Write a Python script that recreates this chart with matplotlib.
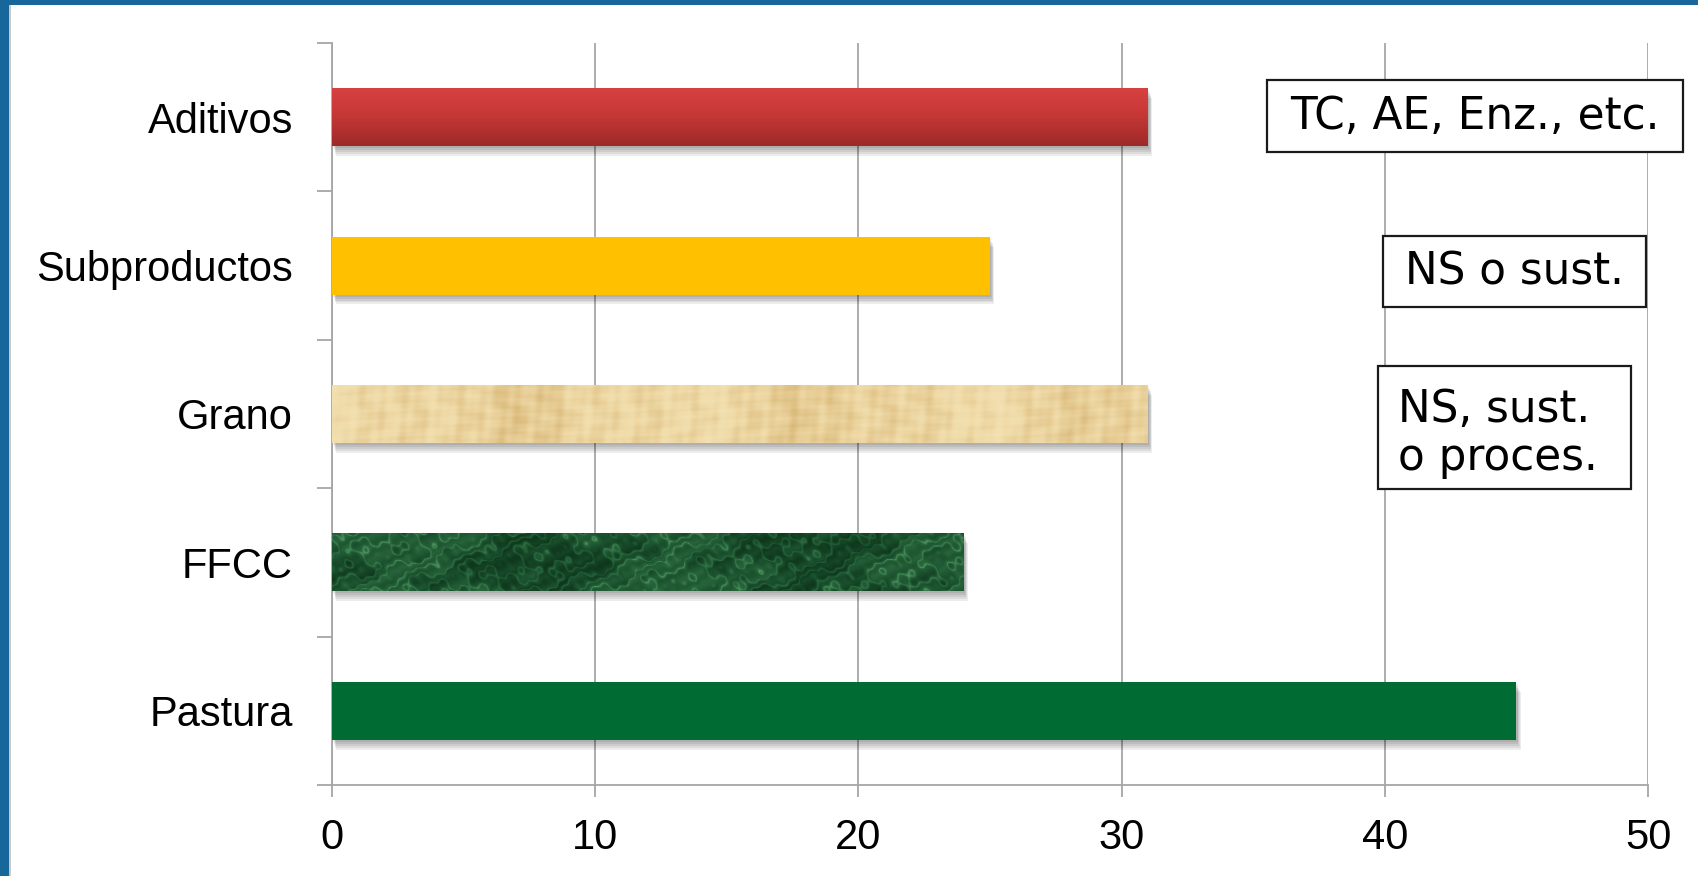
import matplotlib
matplotlib.use("Agg")
import matplotlib.pyplot as plt
import matplotlib.patheffects as pe
import numpy as np
from matplotlib.colors import LinearSegmentedColormap
from matplotlib.patches import Rectangle

# ── Data ──────────────────────────────────────────────────────────────────────

CATEGORIES = ["Aditivos", "Subproductos", "Grano", "FFCC", "Pastura"]
VALUES = [31, 25, 31, 24, 45]
X_TICKS = [0, 10, 20, 30, 40, 50]
NOTES = ["TC, AE, Enz., etc.", "NS o sust.", "NS, sust.\no proces."]

# ── Styling ───────────────────────────────────────────────────────────────────

W, H, DPI = 1699, 876, 100
GRID = "#a6a6a6"
FRAME = "#17679b"


def px(x, y):
    """Pixel position (from top-left) -> figure fraction."""
    return x / W, 1 - y / H


def texture_grain(h=60, w=820):
    """Papyrus-like tan fibres (deterministic, no noise)."""
    x = np.linspace(0, 1, w)[None, :]
    y = np.linspace(0, 1, h)[:, None]
    v = (0.30 * np.sin(2 * np.pi * (17.3 * x + 0.2 * np.sin(2 * np.pi * 1.3 * y)))
         + 0.20 * np.sin(2 * np.pi * (41.7 * x) + 1.1)
         + 0.14 * np.sin(2 * np.pi * (73.1 * x + 0.5 * y) + 0.4)
         + 0.16 * np.sin(2 * np.pi * (4.5 * y + 0.6 * np.sin(2 * np.pi * 2.2 * x)))
         + 0.08 * np.sin(2 * np.pi * (11 * y + 7 * x))
         + 0.35 * np.sin(2 * np.pi * (2.7 * x) + 0.8)
         + 0.20 * np.sin(2 * np.pi * (6.1 * x) + 2.0))
    v = (v - v.min()) / (v.max() - v.min())
    cmap = LinearSegmentedColormap.from_list(
        "grain", ["#d8b878", "#e6cb93", "#f0dcaa", "#f3e2b4"])
    return cmap(v)


def texture_marble(h=60, w=820):
    """Dark green marble with cloudy lighter veins (deterministic)."""
    x = np.linspace(0, 1, w)[None, :]
    y = np.linspace(0, 1, h)[:, None]
    turb = (np.sin(2 * np.pi * (3.1 * x + 0.9 * y))
            + 0.7 * np.sin(2 * np.pi * (7.9 * x - 1.3 * y) + 1.3)
            + 0.5 * np.sin(2 * np.pi * (19.3 * x + 2.1 * y) + 0.7)
            + 0.3 * np.sin(2 * np.pi * (43.7 * x - 3.3 * y) + 2.2))
    vein = np.abs(np.sin(2 * np.pi * (9.3 * x + 1.2 * y) + 1.8 * turb))
    v = 0.45 * (1 - vein) ** 3
    v += 0.35 * (np.sin(2 * np.pi * (2.3 * x) + 0.9 * turb) + 1) / 2
    v += 0.12 * (np.sin(2 * np.pi * (29.1 * x + 5 * y) + 2 * turb) + 1) / 2
    v = np.clip(v / v.max(), 0, 1)
    cmap = LinearSegmentedColormap.from_list(
        "marble", ["#0f371c", "#1c5430", "#2f6e42", "#56a068"])
    return cmap(v)


def gradient_red(h=60):
    y = np.linspace(0, 1, h)[:, None]
    cmap = LinearSegmentedColormap.from_list("red", ["#d64240", "#c43735", "#9d2a28"])
    return cmap(np.repeat(y, 4, axis=1))


FILLS = {
    "Aditivos": gradient_red(),
    "Subproductos": "#ffc000",
    "Grano": texture_grain(),
    "FFCC": texture_marble(),
    "Pastura": "#006b33",
}

# ── Figure ────────────────────────────────────────────────────────────────────

plt.rcParams["font.family"] = ["Liberation Sans", "DejaVu Sans"]

fig = plt.figure(figsize=(W / DPI, H / DPI), dpi=DPI)
fig.patch.set_facecolor("white")

l, b = px(332, 785)
r, t = px(1648, 43)
ax = fig.add_axes([l, b, r - l, t - b])

pos = np.arange(len(CATEGORIES))
# soft shadow below each bar, faked with a few stacked offsets
shadow = [pe.SimplePatchShadow(offset=(1.0 + 0.5 * k, -1.5 - 1.4 * k),
                               shadow_rgbFace="#000000", alpha=0.07)
          for k in range(5)] + [pe.Normal()]
bars = ax.barh(pos, VALUES, height=0.39, color="white", zorder=3, linewidth=0)

for bar, cat in zip(bars, CATEGORIES):
    fill = FILLS[cat]
    bar.set_path_effects(shadow)
    if isinstance(fill, str):
        bar.set_facecolor(fill)
        continue
    x0, y0, bw, bh = bar.get_x(), bar.get_y(), bar.get_width(), bar.get_height()
    im = ax.imshow(fill, extent=(x0, x0 + bw, y0 + bh, y0), aspect="auto",
                   interpolation="bilinear", zorder=4)
    im.set_clip_path(bar)

ax.set_xlim(X_TICKS[0], X_TICKS[-1])
ax.set_ylim(len(CATEGORIES) - 0.5, -0.5)

ax.set_xticks(X_TICKS)
ax.set_xticklabels([str(v) for v in X_TICKS], fontsize=30)
ax.set_yticks(pos)
ax.set_yticklabels(CATEGORIES, fontsize=30)
ax.set_yticks(np.arange(len(CATEGORIES) + 1) - 0.5, minor=True)

ax.tick_params(axis="x", direction="out", length=8.6, width=1.3, color=GRID, pad=15)
ax.tick_params(axis="y", which="major", length=0, pad=28)
ax.tick_params(axis="y", which="minor", direction="out", length=10.5, width=1.3, color=GRID)

ax.grid(axis="x", color=GRID, linewidth=1.3, zorder=1)
ax.set_axisbelow(True)
for side in ("top", "right"):
    ax.spines[side].set_visible(False)
for side in ("left", "bottom"):
    ax.spines[side].set_color(GRID)
    ax.spines[side].set_linewidth(1.3)
    ax.spines[side].set_zorder(2)

# ── Note boxes ────────────────────────────────────────────────────────────────

NOTE_FONT = dict(family="DejaVu Sans", fontsize=31.5, color="black")
boxes = [(1267, 80, 1683, 152), (1383, 236, 1646, 307), (1378, 366, 1631, 489)]
for (x0, y0, x1, y1), note in zip(boxes, NOTES):
    fx0, fy1 = px(x0, y1)
    fx1, fy0 = px(x1, y0)
    fig.patches.append(Rectangle((fx0, fy1), fx1 - fx0, fy0 - fy1,
                                 transform=fig.transFigure, facecolor="white",
                                 edgecolor="#1a1a1a", linewidth=1.6, zorder=5))
    if "\n" in note:
        cy = 1 - ((y0 + y1) / 2 + 6) / H
        fig.text(px(x0 + 20, 0)[0], cy, note, ha="left", va="center",
                 linespacing=1.15, zorder=6, **NOTE_FONT)
    else:
        cy = 1 - (y0 + y1) / 2 / H
        fig.text((fx0 + fx1) / 2, cy, note, ha="center", va="center",
                 zorder=6, **NOTE_FONT)

# ── Slide frame ───────────────────────────────────────────────────────────────

fig.patches.append(Rectangle((0, 0), 9 / W, 1, transform=fig.transFigure,
                             facecolor=FRAME, edgecolor="none", zorder=10))
fig.patches.append(Rectangle((0, 1 - 5 / H), 1, 5 / H, transform=fig.transFigure,
                             facecolor=FRAME, edgecolor="none", zorder=10))
fig.patches.append(Rectangle((9 / W, 0), 2 / W, 1 - 5 / H, transform=fig.transFigure,
                             facecolor="#c8c8c8", edgecolor="none", zorder=10))

fig.savefig("out.png", dpi=DPI)
